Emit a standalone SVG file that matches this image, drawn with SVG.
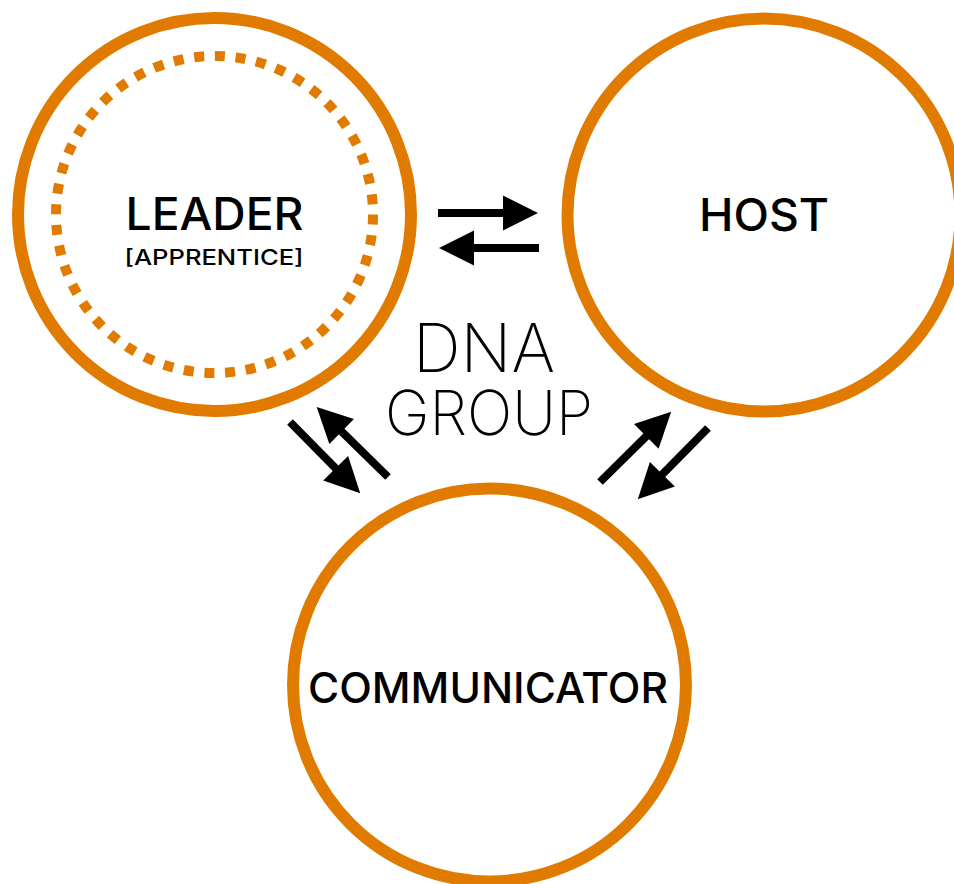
<svg xmlns="http://www.w3.org/2000/svg" width="954" height="884" viewBox="0 0 954 884">
<style>
.ring{fill:#fff;stroke:#E07B00;stroke-width:12}
.dots{fill:none;stroke:#E07B00;stroke-width:10;stroke-dasharray:10 10.75}
.lbl{font-family:Inter,"Noto Sans",sans-serif;font-weight:500;fill:#000;text-anchor:middle}
.thin{font-family:Inter,"Noto Sans",sans-serif;font-weight:200;fill:#000;text-anchor:middle}
.arr{fill:#000}
</style>
<defs>
<g id="arrow"><rect x="0" y="-4" width="67" height="8"/><polygon points="65,-17.5 100,0 65,17.5"/></g>
</defs>
<rect width="954" height="884" fill="#fff"/>
<g id="leader">
<circle class="ring" cx="214.5" cy="214.5" r="196.5"/>
<circle class="dots" cx="214.5" cy="214.5" r="158.5"/>
<text class="lbl" x="214.5" y="230" font-size="45" textLength="178" lengthAdjust="spacingAndGlyphs">LEADER</text>
<text class="lbl" x="214" y="265" font-size="21" textLength="179" lengthAdjust="spacingAndGlyphs">[APPRENTICE]</text>
</g>
<g id="host">
<circle class="ring" cx="764" cy="215" r="196.5"/>
<text class="lbl" x="764" y="231" font-size="45" textLength="130" lengthAdjust="spacingAndGlyphs">HOST</text>
</g>
<g id="communicator">
<circle class="ring" cx="489.5" cy="685" r="196.5"/>
<text class="lbl" x="488" y="703" font-size="42" textLength="360" lengthAdjust="spacingAndGlyphs">COMMUNICATOR</text>
</g>
<g id="title">
<text class="thin"><tspan x="484" y="372" font-size="67" textLength="142" lengthAdjust="spacingAndGlyphs">DNA</tspan><tspan x="489" y="435" font-size="62" textLength="208" lengthAdjust="spacingAndGlyphs">GROUP</tspan></text>
</g>
<g id="connectors" class="arr">
<use href="#arrow" transform="translate(438,213)"/>
<use href="#arrow" transform="translate(539,248) rotate(180)"/>
<use href="#arrow" transform="translate(290,422) rotate(45.4)"/>
<use href="#arrow" transform="translate(388,477) rotate(224.5)"/>
<use href="#arrow" transform="translate(600,482) rotate(-44.6)"/>
<use href="#arrow" transform="translate(708,428) rotate(134.6)"/>
</g>
</svg>
